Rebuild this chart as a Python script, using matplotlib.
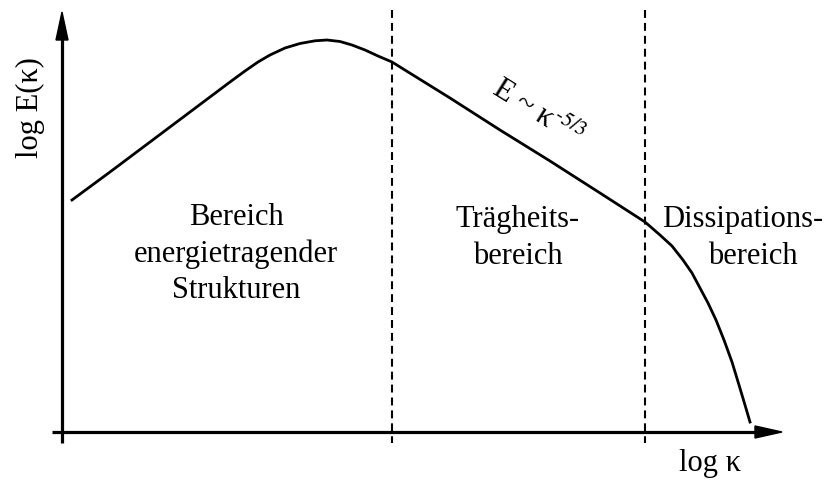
import matplotlib.pyplot as plt
from matplotlib.patches import Polygon

plt.rcParams['font.family'] = ['Liberation Serif', 'DejaVu Serif']
plt.rcParams['mathtext.fontset'] = 'stix'

# schematic spectrum, x = log k, y = log E (screen-like units, y grows downward)
log_k = [72, 110, 150, 190, 230, 245, 258, 270, 285, 300, 315, 327, 340, 352, 365, 378, 392,
         450, 500, 550, 600, 645, 660, 672, 683, 692, 700, 708, 716, 724, 732, 739, 745, 750]
log_E = [200, 172, 142, 112, 82, 71, 62, 55, 48, 43.5, 40.8, 40, 41.5, 45, 50, 56, 62,
         98, 130, 161, 193, 222, 235, 246, 260, 273, 288, 303, 320, 340, 362, 385, 405, 422]

boundaries = [392, 645]
x_axis_y = 432
y_axis_x = 62

fig = plt.figure(figsize=(8.38, 4.82), dpi=100)
ax = fig.add_axes([0, 0, 1, 1])
ax.set_xlim(0, 838)
ax.set_ylim(482, 0)
ax.axis('off')

# axes with arrow heads
ax.plot([52, 760], [x_axis_y, x_axis_y], color='black', lw=2.3, solid_capstyle='butt')
ax.plot([y_axis_x, y_axis_x], [443, 35], color='black', lw=2.3, solid_capstyle='butt')
ax.add_patch(Polygon([[782, x_axis_y], [755, x_axis_y - 6], [755, x_axis_y + 6]],
                     closed=True, color='black'))
ax.add_patch(Polygon([[y_axis_x, 12], [y_axis_x - 6, 40], [y_axis_x + 6, 40]],
                     closed=True, color='black'))

for b in boundaries:
    ax.plot([b, b], [10, 443], color='black', lw=1.5, linestyle=(0, (3.8, 2.4)))

ax.plot(log_k, log_E, color='black', lw=2.0, solid_joinstyle='round')

fs = 22
lines = [('Bereich', 236, 225), ('energietragender', 236, 262), ('Strukturen', 236, 298),
         ('Trägheits-', 518, 227), ('bereich', 518, 264),
         ('Dissipations-', 743, 227), ('bereich', 753, 264)]
for s, x, y in lines:
    ax.text(x, y, s, ha='center', va='baseline', fontsize=fs)

ax.text(538, 113, 'E ~ κ$^{\\mathit{\u2010 5/3}}$', ha='center', va='center', fontsize=fs,
        rotation=-32, rotation_mode='anchor')
ax.text(710, 463, 'log κ', ha='center', va='center', fontsize=fs)
ax.text(30, 108, 'log E(κ)', ha='center', va='center', fontsize=fs, rotation=90)

fig.savefig('out.png', dpi=100)
